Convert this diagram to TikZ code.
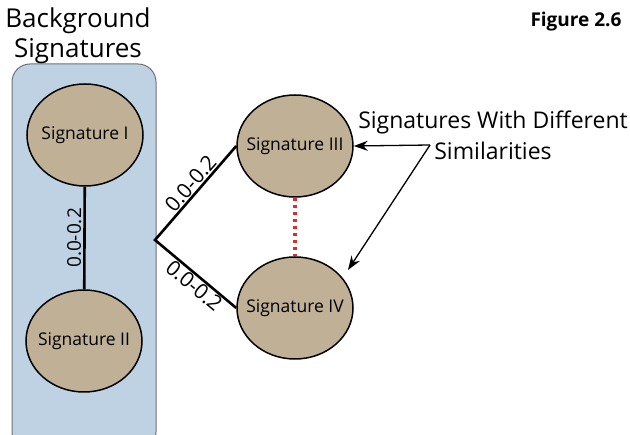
\documentclass[tikz,border=0pt]{standalone}
\usepackage{fontspec}
\setmainfont{Open Sans}
\usetikzlibrary{arrows.meta,shapes.geometric}
\definecolor{boxblue}{RGB}{190,210,228}
\definecolor{boxedge}{RGB}{110,115,120}
\definecolor{sigtan}{RGB}{192,176,150}
\definecolor{dotred}{RGB}{220,45,45}
% label set in a zero-width box so the ellipse keeps its fixed size
\newcommand\siglabel[1]{\makebox[0pt][c]{#1}}
\begin{document}
\begin{tikzpicture}[x=1pt,y=-1pt,
  sig/.style={ellipse, draw=black, line width=1.5pt, fill=sigtan,
    minimum width=116pt, minimum height=102pt, inner sep=0pt,
    font=\fontsize{17.5}{20}\selectfont},
  conn/.style={line width=2.6pt, black},
  simlabel/.style={sloped, font=\fontsize{19}{22}\selectfont, inner sep=2pt},
  pointer/.style={line width=1.3pt, -{Stealth[length=14pt,width=10pt]}},
  heading/.style={font=\fontsize{26}{30}\selectfont, align=center}]
\useasboundingbox (0,0) rectangle (630,435);

% group box for the background signatures (runs past the bottom edge)
\begin{scope}
  \clip (0,0) rectangle (630,435);
  \draw[fill=boxblue, draw=boxedge, line width=1pt, rounded corners=18pt]
    (12,64) rectangle (156,450);
\end{scope}

\node[heading] (bgtitle) at (78,36) {Background\\Signatures};
\node[font=\bfseries\fontsize{19}{22}\selectfont] (fig) at (576,22) {Figure 2.6};

\node[sig] (s1) at (85,135) {\siglabel{Signature I}};
\node[sig] (s2) at (84,341) {\siglabel{Signature II}};
\node[sig] (s3) at (295,146) {\siglabel{Signature III}};
\node[sig] (s4) at (295,308) {\siglabel{Signature IV}};
\coordinate (j) at (155,240);

\draw[conn] (s2) -- node[simlabel, above] {0.0-0.2} (s1);
\draw[conn] (s3.west) -- (j) -- (s4.west);
\path (j) -- node[simlabel, above, pos=0.53, font=\fontsize{21}{24}\selectfont] {0.0-0.2} (s3.west);
\path (j) -- node[simlabel, below, pos=0.56, font=\fontsize{21}{24}\selectfont] {0.0-0.2} (s4.west);

\draw[dotred, line width=3.5pt, dash pattern=on 3.5pt off 3.5pt] (s3) -- (s4);

\node[align=center, font=\fontsize{23}{31}\selectfont] (note) at (493,135)
  {Signatures With Different\\Similarities};
\coordinate (fork) at (430,145);
\coordinate (t4) at (348,270);
\draw[pointer] (fork) -- (s3.east);
\draw[pointer] (fork) -- (t4);
\end{tikzpicture}
\end{document}
